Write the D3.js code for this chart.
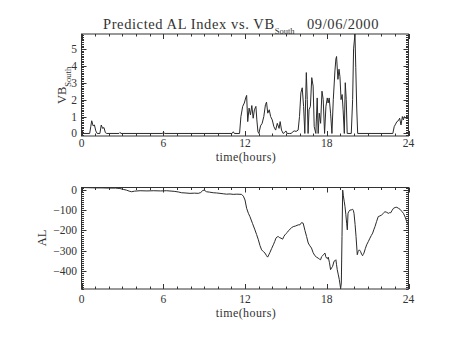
<!DOCTYPE html>
<html>
<head>
<meta charset="utf-8">
<script src="https://cdn.jsdelivr.net/npm/d3@7"></script>
<style>
  html, body { margin: 0; padding: 0; background: #fff; }
  svg { display: block; }
  text { font-family: "Liberation Serif", "DejaVu Serif", serif; fill: #333; }
</style>
</head>
<body>
<svg id="chart" width="454" height="341"></svg>
<script>
// Time axis (hours of the day)
const hourTicks = [0, 6, 12, 18, 24];

// Southward IMF component, VB_South
const vbHours = [0, 0.6, 0.68, 0.75, 0.85, 0.95, 1.05, 1.15, 1.35, 1.45, 1.55, 1.65, 1.75, 1.85,
  2.75, 2.82, 2.9, 5.95, 6.02, 6.1, 11.05, 11.14, 11.22, 11.6, 11.7, 11.83, 11.95, 12.05, 12.12,
  12.2, 12.3, 12.4, 12.5, 12.6, 12.69, 12.8, 12.87, 12.95, 13.02, 13.14, 13.26, 13.38, 13.5, 13.58,
  13.67, 13.78, 13.88, 14.0, 14.12, 14.25, 14.37, 14.5, 14.58, 14.68, 14.8, 14.9, 15.0, 15.1, 15.25,
  15.4, 15.5, 15.62, 15.75, 15.9, 16.0, 16.1, 16.2, 16.3, 16.39, 16.45, 16.5, 16.57, 16.63, 16.7,
  16.8, 16.9, 17.0, 17.08, 17.2, 17.3, 17.37, 17.45, 17.55, 17.65, 17.74, 17.84, 17.94, 18.04, 18.1,
  18.18, 18.28, 18.38, 18.48, 18.6, 18.67, 18.72, 18.82, 18.9, 18.97, 19.05, 19.13, 19.2, 19.29,
  19.36, 19.43, 19.5, 19.8, 19.9, 19.97, 20.07, 20.13, 20.2, 20.27, 22.85, 22.95, 23.05, 23.15,
  23.25, 23.35, 23.45, 23.55, 23.62, 23.7, 23.8, 23.88, 24.0];
const vbValues = [0, 0, 0.4, 0.75, 0.45, 0.5, 0.15, 0, 0, 0.5, 0.3, 0.35, 0.05, 0,
  0, 0.06, 0, 0, 0.08, 0, 0, 0.1, 0, 0, 1.0, 1.6, 1.8, 2.1, 2.25,
  0.7, 1.5, 1.1, 1.65, 0.9, 1.4, 1.6, 0.8, 0.1, 0, 0.45, 0.6, 1.0, 1.7, 1.85,
  1.2, 1.4, 1.0, 0.8, 0.4, 0.2, 0.6, 0.3, 0.7, 0.2, 0, 0.05, 0.15, 0, 0,
  0, 0.1, 0.15, 0.12, 0.2, 1.0, 2.4, 2.7, 1.6, 0, 2.0, 3.6, 2.0, 0, 1.4,
  1.6, 3.3, 2.8, 0.4, 0, 2.1, 0, 1.2, 0.6, 2.5, 2.0, 0, 1.6, 2.1, 1.8,
  2.1, 1.2, 0, 2.0, 3.7, 4.4, 4.55, 3.2, 3.8, 3.35, 2.0, 2.3, 1.4, 0,
  3.0, 2.0, 0, 0, 2.0, 5.0, 5.88, 3.9, 1.5, 0, 0, 0.4, 0.55, 0.7,
  0.75, 0.9, 0.5, 1.0, 0.8, 1.0, 0.9, 1.05, 0.85];
const vbTicks = [0, 1, 2, 3, 4, 5];
const vbRange = [-0.15, 5.88];

// Predicted AL index (nT)
const alHours = [0, 0.5, 1, 1.5, 2, 2.5, 2.82, 3.1, 3.3, 3.5, 3.68, 3.9, 4.3, 4.8, 5.3, 5.8, 6.25,
  6.8, 7.1, 7.35, 7.6, 7.96, 8.3, 8.57, 8.75, 8.9, 9.0, 9.18, 9.4, 9.67, 9.9, 10.16, 10.4, 10.65,
  10.9, 11.13, 11.4, 11.75, 11.88, 12.0, 12.12, 12.25, 12.36, 12.55, 12.73, 12.85, 12.98, 13.1,
  13.22, 13.35, 13.47, 13.58, 13.66, 13.75, 13.83, 13.95, 14.08, 14.18, 14.27, 14.36, 14.44, 14.55,
  14.64, 14.76, 14.85, 14.93, 15.02, 15.1, 15.2, 15.3, 15.42, 15.54, 15.7, 15.91, 16.03, 16.15,
  16.27, 16.4, 16.52, 16.64, 16.76, 16.88, 17.0, 17.13, 17.25, 17.37, 17.46, 17.55, 17.62, 17.7,
  17.78, 17.87, 17.93, 17.99, 18.05, 18.11, 18.2, 18.28, 18.36, 18.43, 18.53, 18.6, 18.67, 18.72,
  18.77, 18.85, 18.92, 18.97, 19.02, 19.07, 19.12, 19.17, 19.21, 19.28, 19.34, 19.4, 19.46, 19.51,
  19.56, 19.63, 19.7, 19.8, 19.9, 19.95, 20.0, 20.08, 20.15, 20.24, 20.3, 20.39, 20.44, 20.48,
  20.56, 20.63, 20.68, 20.73, 20.83, 20.93, 21.05, 21.17, 21.27, 21.37, 21.45, 21.54, 21.66, 21.78,
  21.9, 22.03, 22.15, 22.27, 22.4, 22.52, 22.6, 22.7, 22.8, 22.9, 23.02, 23.14, 23.26, 23.38, 23.5,
  23.63, 23.75, 23.87, 24.0];
const alValues = [13, 12, 11, 11, 10, 10, 8, 3, 0, -5, -8, -5, -3, -4, -3, -4, -3,
  -6, -9, -13, -14, -16, -15, -16, -12, -2, 0, -8, -10, -13, -14, -16, -18, -20,
  -19, -21, -20, -21, -30, -49, -90, -115, -131, -165, -197, -220, -246, -275,
  -296, -305, -312, -325, -332, -320, -309, -290, -271, -255, -238, -232, -230, -236,
  -238, -243, -230, -222, -215, -210, -200, -194, -186, -181, -178, -172, -172, -161,
  -164, -200, -230, -262, -276, -287, -310, -325, -332, -337, -342, -345, -330, -325,
  -318, -312, -330, -337, -340, -332, -360, -394, -385, -378, -353, -350, -345, -370,
  -394, -420, -443, -465, -488, -460, -230, 0, -25, -55, -82, -120, -164, -197,
  -115, -105, -99, -98, -95, -100, -115, -170, -230, -320, -305, -296, -300, -304,
  -318, -325, -318, -312, -290, -271, -255, -238, -225, -213, -197, -181, -155, -131,
  -128, -123, -115, -107, -110, -115, -112, -112, -100, -90, -86, -85, -90, -95, -105,
  -115, -133, -156, -170];
const alTicks = [0, -100, -200, -300, -400];
const alRange = [-490, 13];

const svg = d3.select("#chart");
const ink = "#333";

svg.append("rect").attr("width", 454).attr("height", 341).attr("fill", "#fff");

// Title with subscripted "South"
const title = svg.append("text")
  .attr("x", 103).attr("y", 29)
  .attr("font-size", 14.5)
  .attr("letter-spacing", 0.6);
title.append("tspan").text("Predicted AL Index vs. VB");
title.append("tspan").attr("font-size", 8.5).attr("dy", 5).attr("letter-spacing", 0)
  .attr("fill", "#333").text("South");
title.append("tspan").attr("x", 307).attr("y", 29).text("09/06/2000");

function panel(opts) {
  const { left, right, top, bottom, ys, yTicks, yMinorStep, hours, values, tickLabelY, xTitleY } = opts;
  const x = d3.scaleLinear().domain([0, 24]).range([left, right]);
  const y = d3.scaleLinear().domain(ys).range([bottom, top]);
  const g = svg.append("g");

  const clipId = "clip" + Math.round(top);
  svg.append("clipPath").attr("id", clipId)
    .append("rect").attr("x", left).attr("y", top).attr("width", right - left).attr("height", bottom - top);

  // data trace
  const line = d3.line().x((d, i) => x(hours[i])).y(d => y(d));
  g.append("path")
    .datum(values)
    .attr("clip-path", `url(#${clipId})`)
    .attr("d", line)
    .attr("fill", "none")
    .attr("stroke", "#2a2a2a")
    .attr("stroke-width", 1);

  // frame
  g.append("rect")
    .attr("x", left).attr("y", top)
    .attr("width", right - left).attr("height", bottom - top)
    .attr("fill", "none").attr("stroke", ink).attr("stroke-width", 1);

  // x ticks on bottom and top: major every 6 h, minor every hour
  d3.range(0, 25, 1).forEach(h => {
    const len = h % 6 === 0 ? 5 : 2.5;
    const px = Math.round(x(h)) + 0.5;
    g.append("line").attr("x1", px).attr("x2", px).attr("y1", bottom).attr("y2", bottom - len)
      .attr("stroke", ink);
    g.append("line").attr("x1", px).attr("x2", px).attr("y1", top).attr("y2", top + len)
      .attr("stroke", ink);
  });

  // y ticks on left and right
  const minor = d3.range(Math.ceil(ys[0] / yMinorStep) * yMinorStep, ys[1] + 1e-9, yMinorStep);
  minor.forEach(v => {
    const isMajor = yTicks.some(t => Math.abs(t - v) < 1e-6);
    const len = isMajor ? 5 : 2.5;
    const py = Math.round(y(v)) + 0.5;
    g.append("line").attr("x1", left).attr("x2", left + len).attr("y1", py).attr("y2", py)
      .attr("stroke", ink);
    g.append("line").attr("x1", right).attr("x2", right - len).attr("y1", py).attr("y2", py)
      .attr("stroke", ink);
  });

  // tick labels
  g.selectAll(".xl").data(hourTicks).join("text")
    .attr("x", d => x(d)).attr("y", tickLabelY)
    .attr("text-anchor", "middle").attr("font-size", 11.5)
    .text(d => d);
  g.selectAll(".yl").data(yTicks).join("text")
    .attr("x", left - 4.5).attr("y", d => y(d) + 4)
    .attr("text-anchor", "end").attr("font-size", 11.5)
    .text(d => d < 0 ? "\u2212" + Math.abs(d) : d);

  g.append("text")
    .attr("x", (left + right) / 2 + 1).attr("y", xTitleY)
    .attr("text-anchor", "middle").attr("font-size", 12)
    .attr("letter-spacing", 0.4)
    .text("time(hours)");

  return { x, y, g };
}

const vbPanel = panel({
  left: 81.5, right: 408.5, top: 34, bottom: 136,
  ys: vbRange, yTicks: vbTicks, yMinorStep: 0.1,
  hours: vbHours, values: vbValues,
  tickLabelY: 147, xTitleY: 161
});

const alPanel = panel({
  left: 81.5, right: 408.5, top: 187.5, bottom: 289,
  ys: alRange, yTicks: alTicks, yMinorStep: 10,
  hours: alHours, values: alValues,
  tickLabelY: 303, xTitleY: 317
});

// y-axis titles
const vbLabel = svg.append("text")
  .attr("transform", "translate(66,104) rotate(-90)")
  .attr("font-size", 12.5);
vbLabel.append("tspan").text("VB");
vbLabel.append("tspan").attr("font-size", 8.5).attr("dy", 4.5).text("South");

svg.append("text")
  .attr("transform", "translate(46,238) rotate(-90)")
  .attr("text-anchor", "middle")
  .attr("font-size", 12.5)
  .text("AL");
</script>
</body>
</html>
